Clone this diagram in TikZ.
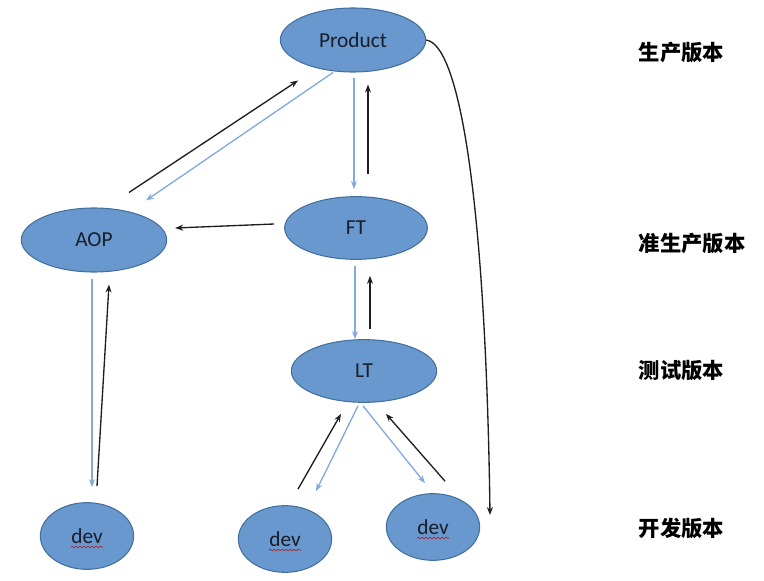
\documentclass[tikz,border=0pt]{standalone}
\usepackage{fontspec}
\setmainfont{Carlito}
\newfontfamily\cjk{Noto Sans CJK SC}
\usepackage{tikz}
\usetikzlibrary{shapes.geometric,arrows.meta,decorations.pathmorphing,calc}
\definecolor{BoxBlue}{RGB}{105,152,206}
\definecolor{BoxEdge}{RGB}{66,112,158}
\definecolor{LineBlue}{RGB}{130,170,222}
\definecolor{LineDark}{RGB}{30,30,30}
\definecolor{TextDark}{RGB}{25,30,40}

\begin{document}
\begin{tikzpicture}[x=0.75pt, y=-0.75pt, >={Stealth[length=6pt,width=4.5pt]},
                    every node/.style={font=\fontsize{16}{19}\selectfont, text=TextDark},
                    verbox/.style={ellipse, draw=BoxEdge, fill=BoxBlue, thick,
                                   minimum width=109pt, minimum height=48pt},
                    devbox/.style={verbox, minimum width=70pt, minimum height=50pt},
                    up/.style={->, draw=LineDark, line width=1pt},
                    down/.style={->, draw=LineBlue, line width=1pt},
                    level/.style={anchor=west, text=black, font=\cjk\bfseries\fontsize{16}{18}\selectfont},
                    squiggle/.style={draw=red!80!black, thin,
                                     decorate, decoration={snake, amplitude=0.6pt, segment length=3pt}}]
  \useasboundingbox (0,0) rectangle (764,581);
  \node[verbox] (prod) at (353,40) {Product};
  \node[verbox] (aop) at (94,240) {AOP};
  \node[verbox, minimum width=107pt, minimum height=47pt] (ft) at (356,228) {FT};
  \node[verbox, minimum height=47pt] (lt) at (364,371) {LT};
  \node[devbox] (devA) at (87,536) {dev};
  \node[devbox] (devB) at (285,539) {dev};
  \node[devbox] (devC) at (433,527) {dev};
  % spell-check underline
  \draw[squiggle] ($(devA)+(-16,11)$) -- ++(32,0);
  \draw[squiggle] ($(devB)+(-16,11)$) -- ++(32,0);
  \draw[squiggle] ($(devC)+(-16,11)$) -- ++(32,0);
  % level names
  \node[level] (lprod) at (634,52) {生产版本};
  \node[level] (lft) at (634,243) {准生产版本};
  \node[level] (llt) at (634,371) {测试版本};
  \node[level] (ldev) at (634,528) {开发版本};
  % product / AOP
  \draw[up] ([shift={(35,-15)}]aop.north) -- ([shift={(-55,8)}]prod.south);
  \draw[down] ([shift={(-20,0)}]prod.south) -- ([shift={(52,-7)}]aop.north);
  % product / FT
  \draw[down] ([shift={(1,5)}]prod.south) -- ([shift={(-2,-7)}]ft.north);
  \draw[up] ([shift={(12,-22)}]ft.north) -- ([shift={(15,12)}]prod.south);
  \draw[up] ([shift={(-10,-4)}]ft.west) -- ([shift={(8,-12)}]aop.east);
  % FT / LT
  \draw[down] ([shift={(-1,6)}]ft.south) -- ([shift={(-9,0)}]lt.north);
  \draw[up] ([shift={(6,-10)}]lt.north) -- ([shift={(14,16)}]ft.south);
  % AOP / dev
  \draw[down] ([shift={(-2,6)}]aop.south) -- ([shift={(5,-15)}]devA.north);
  \draw[up] ([shift={(10,-16)}]devA.north) -- ([shift={(15,12)}]aop.south);
  % LT / dev
  \draw[up] ([shift={(13,-16)}]devB.north) -- ([shift={(-23,11)}]lt.south);
  \draw[down] ([shift={(-6,3)}]lt.south) -- ([shift={(31,-14)}]devB.north);
  \draw[down] ([shift={(-1,3)}]lt.south) -- ([shift={(-8,-10)}]devC.north);
  \draw[up] ([shift={(12,-12)}]devC.north) -- ([shift={(22,11)}]lt.south);
  % product down to dev
  \draw[up] (prod.east) .. controls (462,45) and (486,220) .. ([shift={(57,-12)}]devC.center);
\end{tikzpicture}
\end{document}
